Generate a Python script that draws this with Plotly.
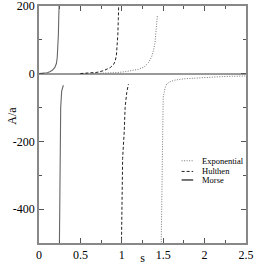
import plotly.graph_objects as go

# Exponential
exp_pos_s = [0.65, 0.80, 0.95, 1.04, 1.12, 1.20, 1.27, 1.32, 1.36, 1.38, 1.40, 1.41, 1.42, 1.43]
exp_pos_a = [0.5, 1.5, 3.5, 6, 9, 13, 20, 32, 50, 66, 90, 115, 140, 172]
exp_neg_s = [1.475, 1.48, 1.485, 1.49, 1.50, 1.52, 1.54, 1.58, 1.64, 1.75, 1.85, 2.05, 2.25, 2.49]
exp_neg_a = [-520, -400, -280, -168, -70, -45, -31, -24, -19, -15, -13.5, -9.7, -8, -6.7]

# Hulthen
hul_pos_s = [0.50, 0.60, 0.70, 0.78, 0.86, 0.90, 0.92, 0.935, 0.945, 0.952, 0.958, 0.963]
hul_pos_a = [0.5, 1.5, 4, 9, 18, 27, 37, 55, 80, 115, 160, 210]
hul_neg_s = [0.995, 1.0, 1.01, 1.03, 1.04, 1.06, 1.08]
hul_neg_a = [-520, -400, -250, -168, -100, -55, -31]

# Morse
mor_pos_s = [0.0, 0.05, 0.10, 0.13, 0.16, 0.19, 0.21, 0.22, 0.23, 0.234, 0.238, 0.242, 0.244]
mor_pos_a = [0.5, 1.5, 3, 6, 10, 18, 30, 47, 80, 115, 160, 193, 210]
mor_neg_s = [0.246, 0.250, 0.254, 0.262, 0.274, 0.285, 0.294]
mor_neg_a = [-520, -300, -168, -100, -51, -40, -34]

x_ticks = [0, 0.5, 1, 1.5, 2, 2.5]
x_labels = ["0", "0.5", "1", "1.5", "2", "2.5"]
y_ticks = [-400, -200, 0, 200]
y_labels = ["-400", "-200", "0", "200"]

font = "Liberation Serif, Times New Roman, serif"

fig = go.Figure()
series = [
    ("Exponential", exp_pos_s, exp_pos_a, exp_neg_s, exp_neg_a, "1px,1.5px", "#777", 1),
    ("Hulthen", hul_pos_s, hul_pos_a, hul_neg_s, hul_neg_a, "3px,2px", "#222", 1),
    ("Morse", mor_pos_s, mor_pos_a, mor_neg_s, mor_neg_a, "solid", "#666", 1.1),
]
leg_y = [0.347, 0.302, 0.266]
for (name, ps, pa, ns, na, dash, col, w), ly in zip(series, leg_y):
    fig.add_trace(go.Scatter(
        x=ps + [None] + ns, y=pa + [None] + na, mode="lines", name=name,
        line=dict(color=col, dash=dash, width=w), connectgaps=False, showlegend=False,
    ))
    fig.add_shape(type="line", xref="paper", yref="paper", x0=0.689, x1=0.745, y0=ly, y1=ly,
                  line=dict(color=col, dash=dash, width=w if dash != "solid" else 1.8))
    fig.add_annotation(xref="paper", yref="paper", x=0.778, y=ly, text=name, showarrow=False,
                       xanchor="left", yanchor="middle",
                       font=dict(family=font, size=8.5, color="#000"))

# y axis title
fig.add_annotation(xref="paper", yref="paper", x=-0.128, y=0.535, text="A/a", textangle=-90,
                   showarrow=False, xanchor="center", yanchor="middle",
                   font=dict(family=font, size=12, color="#000"))

axis_common = dict(
    showgrid=False, showline=True, linecolor="#888", linewidth=1.5, mirror="ticks",
    ticks="inside", ticklen=5, tickwidth=1, tickcolor="#555",
    tickfont=dict(family=font, size=12, color="#000"), ticklabeloverflow="allow",
)
fig.update_xaxes(
    range=[0, 2.5], tickvals=x_ticks, ticktext=x_labels, zeroline=False,
    minor=dict(dtick=0.25, ticks="inside", ticklen=3, tickcolor="#555"),
    title=dict(text="s", font=dict(family=font, size=12, color="#000"), standoff=0),
    **axis_common,
)
fig.update_yaxes(
    range=[-500, 200.01], tickvals=y_ticks, ticktext=y_labels,
    zeroline=True, zerolinecolor="#999", zerolinewidth=1.5,
    minor=dict(dtick=100, ticks="inside", ticklen=3, tickcolor="#555"),
    **axis_common,
)
fig.update_layout(
    width=255, height=265,
    margin=dict(l=39, r=9, t=6, b=22, autoexpand=False),
    paper_bgcolor="white", plot_bgcolor="white",
    showlegend=False,
)
fig.write_html("out.html", config={"displayModeBar": False},
               post_script="document.body.style.margin='0';")
